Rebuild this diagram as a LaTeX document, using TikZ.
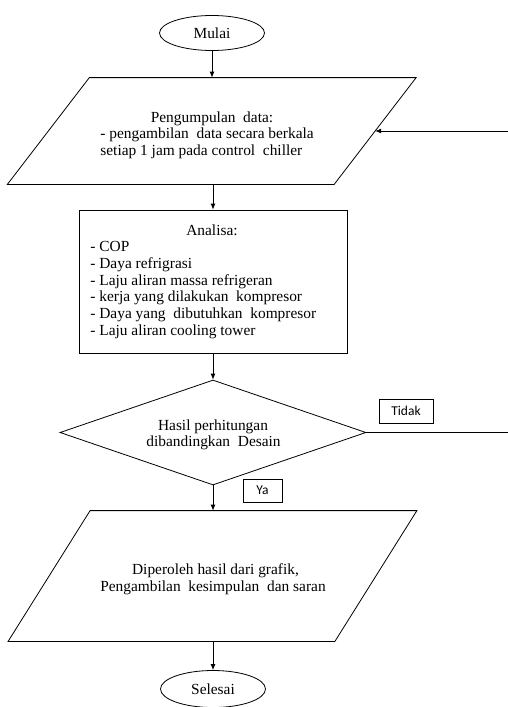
\documentclass[tikz,border=0pt]{standalone}
\usepackage{fontspec}
\setmainfont{Liberation Serif}
\newfontfamily\calfont{Carlito}
\usetikzlibrary{arrows.meta,shapes.geometric}
\begin{document}
\begin{tikzpicture}[x=1pt,y=-1pt,
  line width=0.8pt,
  every node/.style={inner sep=0pt,font=\fontsize{15.4}{16.6}\selectfont},
  txt/.style={anchor=base},
  txtl/.style={anchor=base west},
  term/.style={draw,ellipse,minimum width=105pt,minimum height=35pt},
  procbox/.style={draw,rectangle,minimum width=268pt,minimum height=143pt},
  decis/.style={draw,diamond,minimum width=306pt,minimum height=105pt,aspect=2.9},
  iobody/.style={rectangle,minimum width=326pt},
  lbl/.style={draw,font=\calfont\fontsize{13.5}{15}\selectfont},
  arr/.style={-{Latex[length=6pt,width=5pt]}}
]
\useasboundingbox (0,0) rectangle (508,707);

% shapes
\node[term] (mulai) at (212,33) {Mulai};
\node[iobody,minimum height=106pt] (p1) at (211.75,131) {};
\draw ([xshift=41pt]p1.north west) -- ([xshift=41pt]p1.north east)
   -- ([xshift=-41pt]p1.south east) -- ([xshift=-41pt]p1.south west) -- cycle;
\node[procbox] (analisa) at (213,281.5) {};
\node[decis] (dec) at (213,432.5) {};
\node[iobody,minimum height=130pt] (p2) at (212.5,576) {};
\draw ([xshift=41pt]p2.north west) -- ([xshift=41pt]p2.north east)
   -- ([xshift=-41pt]p2.south east) -- ([xshift=-41pt]p2.south west) -- cycle;
\node[term,minimum height=37pt] (selesai) at (213,689) {Selesai};
\node[lbl,minimum width=54pt,minimum height=24pt] (tidak) at (406,411) {Tidak};
\node[lbl,minimum width=39pt,minimum height=23pt] (ya) at (262.5,490.5) {Ya};
\coordinate (fbk) at (508,131);
\coordinate (decend) at (508,432.5);

% texts
\node[txt] (t1a) at (212,122) {Pengumpulan\ \ data:};
\node[txtl] (t1b) at (100,138.5) {- pengambilan\ \ data secara berkala};
\node[txtl] (t1c) at (100,155) {setiap 1 jam pada control\ \ chiller};

\node[txt] (a0) at (212,235) {Analisa:};
\node[txtl] (a1) at (90,251.7) {- COP};
\node[txtl] (a2) at (90,268.3) {- Daya refrigrasi};
\node[txtl] (a3) at (90,285) {- Laju aliran massa refrigeran};
\node[txtl] (a4) at (90,301.7) {- kerja yang dilakukan\ \ kompresor};
\node[txtl] (a5) at (90,318.3) {- Daya yang\ \ dibutuhkan\ \ kompresor};
\node[txtl] (a6) at (90,335) {- Laju aliran cooling tower};

\node[txt] (d1) at (213,430) {Hasil perhitungan};
\node[txt] (d2) at (213.5,446.7) {dibandingkan\ \ Desain};

\node[txt] (e1) at (215.5,574.3) {Diperoleh hasil dari grafik,};
\node[txt] (e2) at (213,591) {Pengambilan\ \ kesimpulan\ \ dan saran};

% connectors
\draw[arr] (mulai) -- (mulai |- p1.north);
\draw[arr] (analisa.north |- p1.south) -- (analisa.north);
\draw[arr] (fbk) -- (p1.east);
\draw[arr] (analisa) -- (dec);
\draw (dec.east) -- (decend);
\draw[arr] (dec) -- (dec |- p2.north);
\draw[arr] (selesai |- p2.south) -- (selesai);
\end{tikzpicture}
\end{document}
